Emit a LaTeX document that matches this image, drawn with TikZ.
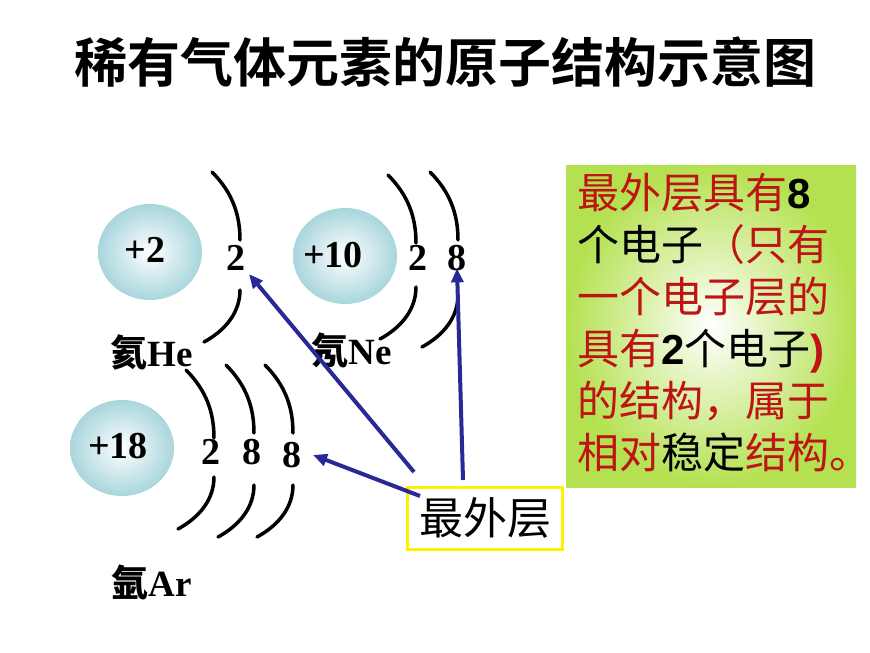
\documentclass[tikz,border=0pt]{standalone}
\usepackage{fontspec}
\setmainfont{Liberation Serif}
\newfontfamily\cjk{Noto Sans CJK SC}
\newfontfamily\cjkb{Noto Sans CJK SC Bold}
\newfontfamily\arialb{Liberation Sans Bold}
\usetikzlibrary{arrows.meta}
\definecolor{nucleus}{RGB}{168,214,220}
\definecolor{shellblue}{RGB}{40,40,150}
\definecolor{boxgreen}{RGB}{180,225,80}
\definecolor{txtred}{RGB}{190,20,20}
\tikzset{
    core/.style={ellipse, minimum width=104pt, minimum height=96pt, inner sep=0pt,
        inner color=white, outer color=nucleus},
    num/.style={font=\fontsize{38}{38}\selectfont\bfseries},
    elem/.style={font=\fontsize{37}{37}\selectfont\bfseries},
    shell/.style={line width=3.5pt, line cap=round},
    pointer/.style={shellblue, line width=4pt, -{Triangle[length=14pt,width=12pt]}}
}
\usetikzlibrary{shapes.geometric}
\begin{document}
\begin{tikzpicture}[x=1pt,y=-1pt]
    \useasboundingbox (0,0) rectangle (870,653);

    % Title
    \node[font=\cjkb\fontsize{53}{53}\selectfont] (title) at (445,62) {稀有气体元素的原子结构示意图};

    % Nuclei
    \node[core] (heCore) at (150,252) {};
    \node[num] at (145,250) {+2};
    \node[core] (neCore) at (345,256) {};
    \node[num] at (333,255) {+10};
    \node[core] (arCore) at (122,448) {};
    \node[num] at (118,446) {+18};

    % Electron numbers
    \node[num] (he2) at (236,258) {2};
    \node[num] (ne2) at (418,258) {2};
    \node[num] (ne8) at (457,258) {8};
    \node[num] (ar2) at (211,452) {2};
    \node[num] (ar8a) at (252,452) {8};
    \node[num] (ar8b) at (292,455) {8};

    % Shells (x, top, bottom)
    \foreach \X/\T/\B in {240/172/290, 416/175/287, 458/172/295, 214/370/477, 254/365/485, 293/365/485} {
        \draw[shell] (\X-28,\T) .. controls (\X-8,\T+20) and (\X,\T+42) .. (\X,\T+68);
        \draw[shell] (\X,\B) .. controls (\X,\B+22) and (\X-14,\B+40) .. (\X-36,\B+52);
    }

    % Element names
    \node[elem] (heName) at (152,352) {{\cjk 氦}He};
    \node[elem] (neName) at (352,350) {{\cjk 氖}Ne};
    \node[elem] (arName) at (152,582) {{\cjk 氩}Ar};

    % Outermost layer label
    \node[draw=yellow, line width=3pt, fill=white, minimum width=155pt, minimum height=62pt,
        font=\cjk\fontsize{44}{44}\selectfont] (outer) at (485,518) {最外层};
    \coordinate (s1) at (414,472);
    \coordinate (s2) at (463,480);
    \coordinate (s3) at (420,496);
    \draw[pointer] (s1) -- (he2.south east);
    \draw[pointer] (s2) -- ([yshift=6pt]ne8.south);
    \draw[pointer] (s3) -- ([xshift=8pt]ar8b.east);

    % Explanation box
    \node[inner color=white, outer color=boxgreen, minimum width=290pt, minimum height=322pt,
        inner sep=0pt] (note) at (711,326) {};
    \node[anchor=north west, align=left, text=txtred, inner sep=0pt,
        font=\cjk\fontsize{42}{52}\selectfont] (noteText) at (577,173)
        {最外层具有{\arialb\color{black}8}\\
         {\color{black}个电子}（只有\\
         一个电子层的\\
         具有{\color{black}{\arialb 2}个电子}{\arialb )}\\
         的结构，属于\\
         相对{\color{black}稳定}结构。};
\end{tikzpicture}
\end{document}
